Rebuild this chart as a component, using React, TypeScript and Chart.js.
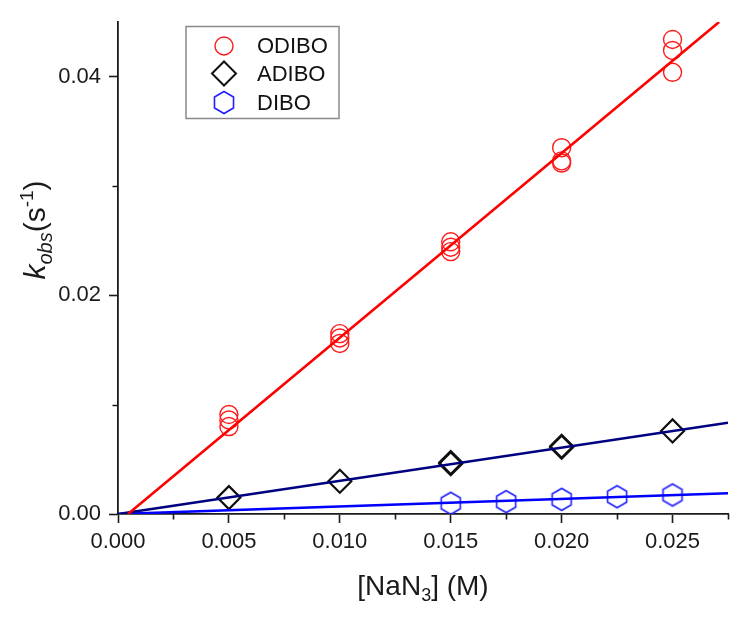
import React, { useEffect, useRef } from 'react';
import { Chart, registerables } from 'chart.js';

Chart.register(...registerables);

// ---- data ----
const SERIES_NAMES = ['ODIBO', 'ADIBO', 'DIBO'];

const ODIBO_X = [0.005, 0.005, 0.005, 0.01, 0.01, 0.01, 0.015, 0.015, 0.015, 0.02, 0.02, 0.02, 0.025, 0.025, 0.025];
const ODIBO_Y = [0.008, 0.0086, 0.0091, 0.0156, 0.0161, 0.0165, 0.024, 0.0244, 0.0249, 0.0321, 0.0323, 0.0335, 0.0404, 0.0424, 0.0434];

const ADIBO_X = [0.005, 0.01, 0.015, 0.015, 0.02, 0.02, 0.025];
const ADIBO_Y = [0.0015, 0.003, 0.0046, 0.0047, 0.0061, 0.0062, 0.0076];

const DIBO_X = [0.015, 0.0175, 0.02, 0.0225, 0.025];
const DIBO_Y = [0.00098, 0.00113, 0.00134, 0.00158, 0.00174];

const FIT_ODIBO_X = [0.00045, 0.0271];
const FIT_ODIBO_Y = [0, 0.045];
const FIT_ADIBO_X = [0, 0.0275];
const FIT_ADIBO_Y = [0, 0.00835];
const FIT_DIBO_X = [0, 0.0275];
const FIT_DIBO_Y = [0, 0.0019];

const X_MAJOR_TICKS = [0, 0.005, 0.01, 0.015, 0.02, 0.025];
const X_MINOR_TICKS = [0.0025, 0.0075, 0.0125, 0.0175, 0.0225, 0.0275];
const Y_MAJOR_TICKS = [0, 0.02, 0.04];
const Y_MINOR_TICKS = [0.01, 0.03];

const FONT = 'Arial, "Liberation Sans", Helvetica, sans-serif';
const AXIS_COLOR = '#1a1a1a';
const RED = '#ff1a1a';
const BLACK = '#111111';
const BLUE = '#2020ff';

const zip = (xs: number[], ys: number[]) => xs.map((x, i) => ({ x, y: ys[i] }));

function makeHexagon(R: number, color: string, lw: number): HTMLCanvasElement {
  const c = document.createElement('canvas');
  const w = Math.round(Math.sqrt(3) * R + lw * 2 + 2);
  const h = Math.round(2 * R + lw * 2 + 2);
  c.width = w;
  c.height = h;
  const ctx = c.getContext('2d')!;
  ctx.strokeStyle = color;
  ctx.lineWidth = lw;
  ctx.beginPath();
  for (let i = 0; i < 6; i++) {
    const a = -Math.PI / 2 + (i * Math.PI) / 3;
    const px = w / 2 + R * Math.cos(a);
    const py = h / 2 + R * Math.sin(a);
    if (i === 0) ctx.moveTo(px, py);
    else ctx.lineTo(px, py);
  }
  ctx.closePath();
  ctx.stroke();
  return c;
}

type Seg = { text: string; size: number; italic?: boolean; dy?: number };

function segWidth(ctx: CanvasRenderingContext2D, s: Seg) {
  ctx.font = `${s.italic ? 'italic ' : ''}${s.size}px ${FONT}`;
  return ctx.measureText(s.text).width;
}

function drawSegs(ctx: CanvasRenderingContext2D, segs: Seg[], cx: number, baseline: number) {
  const total = segs.reduce((a, s) => a + segWidth(ctx, s), 0);
  let x = cx - total / 2;
  ctx.textBaseline = 'alphabetic';
  ctx.textAlign = 'left';
  for (const s of segs) {
    ctx.font = `${s.italic ? 'italic ' : ''}${s.size}px ${FONT}`;
    ctx.fillText(s.text, x, baseline + (s.dy || 0));
    x += ctx.measureText(s.text).width;
  }
}

export default function App() {
  const canvasRef = useRef<HTMLCanvasElement | null>(null);

  useEffect(() => {
    const canvas = canvasRef.current;
    if (!canvas) return;
    const hexagon = makeHexagon(11, BLUE, 1.6);

    const decorations = {
      id: 'decorations',
      afterDraw(chart: any) {
        const ctx: CanvasRenderingContext2D = chart.ctx;
        const xs = chart.scales.x;
        const ys = chart.scales.y;
        const area = chart.chartArea;
        ctx.save();
        // minor ticks
        ctx.strokeStyle = AXIS_COLOR;
        ctx.lineWidth = 1.6;
        ctx.beginPath();
        for (const v of X_MINOR_TICKS) {
          const px = Math.round(xs.getPixelForValue(v)) + 0.5;
          ctx.moveTo(px, area.bottom);
          ctx.lineTo(px, area.bottom + 5.5);
        }
        for (const v of Y_MINOR_TICKS) {
          const py = Math.round(ys.getPixelForValue(v)) + 0.5;
          ctx.moveTo(area.left, py);
          ctx.lineTo(area.left - 5.5, py);
        }
        ctx.stroke();

        // axis titles
        ctx.fillStyle = AXIS_COLOR;
        drawSegs(
          ctx,
          [
            { text: '[NaN', size: 28 },
            { text: '3', size: 18, dy: 6 },
            { text: '] (M)', size: 28 },
          ],
          (area.left + area.right) / 2,
          area.bottom + 81
        );
        ctx.save();
        ctx.translate(area.left - 73, area.top + 208);
        ctx.rotate(-Math.PI / 2);
        drawSegs(
          ctx,
          [
            { text: 'k', size: 30, italic: true },
            { text: 'obs', size: 20, italic: true, dy: 7 },
            { text: '(s', size: 30 },
            { text: '-1', size: 19, dy: -12 },
            { text: ')', size: 30 },
          ],
          0,
          0
        );
        ctx.restore();

        // legend
        const lx = area.left + 68;
        const ly = area.top + 4.5;
        const lw = 153;
        const lh = 92;
        ctx.fillStyle = '#ffffff';
        ctx.fillRect(lx, ly, lw, lh);
        ctx.strokeStyle = '#8a8a8a';
        ctx.lineWidth = 1.5;
        ctx.strokeRect(lx, ly, lw, lh);
        const rowY = [ly + 19.5, ly + 47, ly + 76];
        const symX = lx + 38;
        // circle
        ctx.strokeStyle = RED;
        ctx.lineWidth = 1.4;
        ctx.beginPath();
        ctx.arc(symX, rowY[0], 9, 0, Math.PI * 2);
        ctx.stroke();
        // diamond
        ctx.strokeStyle = BLACK;
        ctx.lineWidth = 2;
        ctx.beginPath();
        ctx.moveTo(symX - 12, rowY[1]);
        ctx.lineTo(symX, rowY[1] - 12);
        ctx.lineTo(symX + 12, rowY[1]);
        ctx.lineTo(symX, rowY[1] + 12);
        ctx.closePath();
        ctx.stroke();
        // hexagon
        ctx.drawImage(hexagon, symX - hexagon.width / 2, rowY[2] - hexagon.height / 2);
        ctx.fillStyle = '#111111';
        ctx.font = `22px ${FONT}`;
        ctx.textAlign = 'left';
        ctx.textBaseline = 'middle';
        SERIES_NAMES.forEach((name, i) => ctx.fillText(name, lx + 71, rowY[i] + 1));
        ctx.restore();
      },
    };

    const chart = new Chart(canvas, {
      type: 'scatter',
      data: {
        datasets: [
          {
            label: 'ODIBO fit',
            data: zip(FIT_ODIBO_X, FIT_ODIBO_Y),
            showLine: true,
            borderColor: '#ff0000',
            borderWidth: 2.6,
            pointRadius: 0,
            order: 0,
          },
          {
            label: 'ADIBO fit',
            data: zip(FIT_ADIBO_X, FIT_ADIBO_Y),
            showLine: true,
            borderColor: '#000080',
            borderWidth: 2.6,
            pointRadius: 0,
            order: 0,
          },
          {
            label: 'DIBO fit',
            data: zip(FIT_DIBO_X, FIT_DIBO_Y),
            showLine: true,
            borderColor: '#0000ff',
            borderWidth: 2.6,
            pointRadius: 0,
            order: 0,
          },
          {
            label: SERIES_NAMES[0],
            data: zip(ODIBO_X, ODIBO_Y),
            pointStyle: 'circle',
            pointRadius: 9,
            borderColor: RED,
            backgroundColor: 'rgba(0,0,0,0)',
            borderWidth: 1.4,
            order: 1,
          },
          {
            label: SERIES_NAMES[1],
            data: zip(ADIBO_X, ADIBO_Y),
            pointStyle: 'rectRot',
            pointRadius: 11.5,
            borderColor: BLACK,
            backgroundColor: 'rgba(0,0,0,0)',
            borderWidth: 2.2,
            order: 1,
          },
          {
            label: SERIES_NAMES[2],
            data: zip(DIBO_X, DIBO_Y),
            pointStyle: hexagon,
            pointRadius: 11,
            borderColor: BLUE,
            backgroundColor: 'rgba(0,0,0,0)',
            order: 1,
          },
        ],
      },
      options: {
        animation: false,
        responsive: false,
        events: [],
        layout: { padding: { top: 22, right: 17, left: 0, bottom: 0 } },
        plugins: {
          legend: { display: false },
          tooltip: { enabled: false },
          title: { display: false },
        },
        scales: {
          x: {
            type: 'linear',
            min: 0,
            max: 0.0275,
            afterFit: (scale: any) => {
              scale.height = 104;
            },
            afterBuildTicks: (scale: any) => {
              scale.ticks = X_MAJOR_TICKS.map((v) => ({ value: v }));
            },
            grid: {
              display: true,
              drawOnChartArea: false,
              drawTicks: true,
              tickLength: 9,
              tickWidth: 1.6,
              tickColor: AXIS_COLOR,
            },
            border: { display: true, color: AXIS_COLOR, width: 1.8 },
            ticks: {
              autoSkip: false,
              maxRotation: 0,
              padding: 6,
              color: AXIS_COLOR,
              font: { family: FONT, size: 22 },
              callback: (v: any) => Number(v).toFixed(3),
            },
          },
          y: {
            type: 'linear',
            min: 0,
            max: 0.045,
            afterFit: (scale: any) => {
              scale.width = 118;
            },
            afterBuildTicks: (scale: any) => {
              scale.ticks = Y_MAJOR_TICKS.map((v) => ({ value: v }));
            },
            grid: {
              display: true,
              drawOnChartArea: false,
              drawTicks: true,
              tickLength: 9,
              tickWidth: 1.6,
              tickColor: AXIS_COLOR,
            },
            border: { display: true, color: AXIS_COLOR, width: 1.8 },
            ticks: {
              autoSkip: false,
              padding: 8,
              color: AXIS_COLOR,
              font: { family: FONT, size: 22 },
              callback: (v: any) => Number(v).toFixed(2),
            },
          },
        },
      },
      plugins: [decorations],
    } as any);

    return () => chart.destroy();
  }, []);

  return (
    <div style={{ position: 'absolute', left: 0, top: 0, width: 745, height: 618, background: '#ffffff' }}>
      <canvas ref={canvasRef} width={745} height={618} style={{ width: 745, height: 618, display: 'block' }} />
    </div>
  );
}
